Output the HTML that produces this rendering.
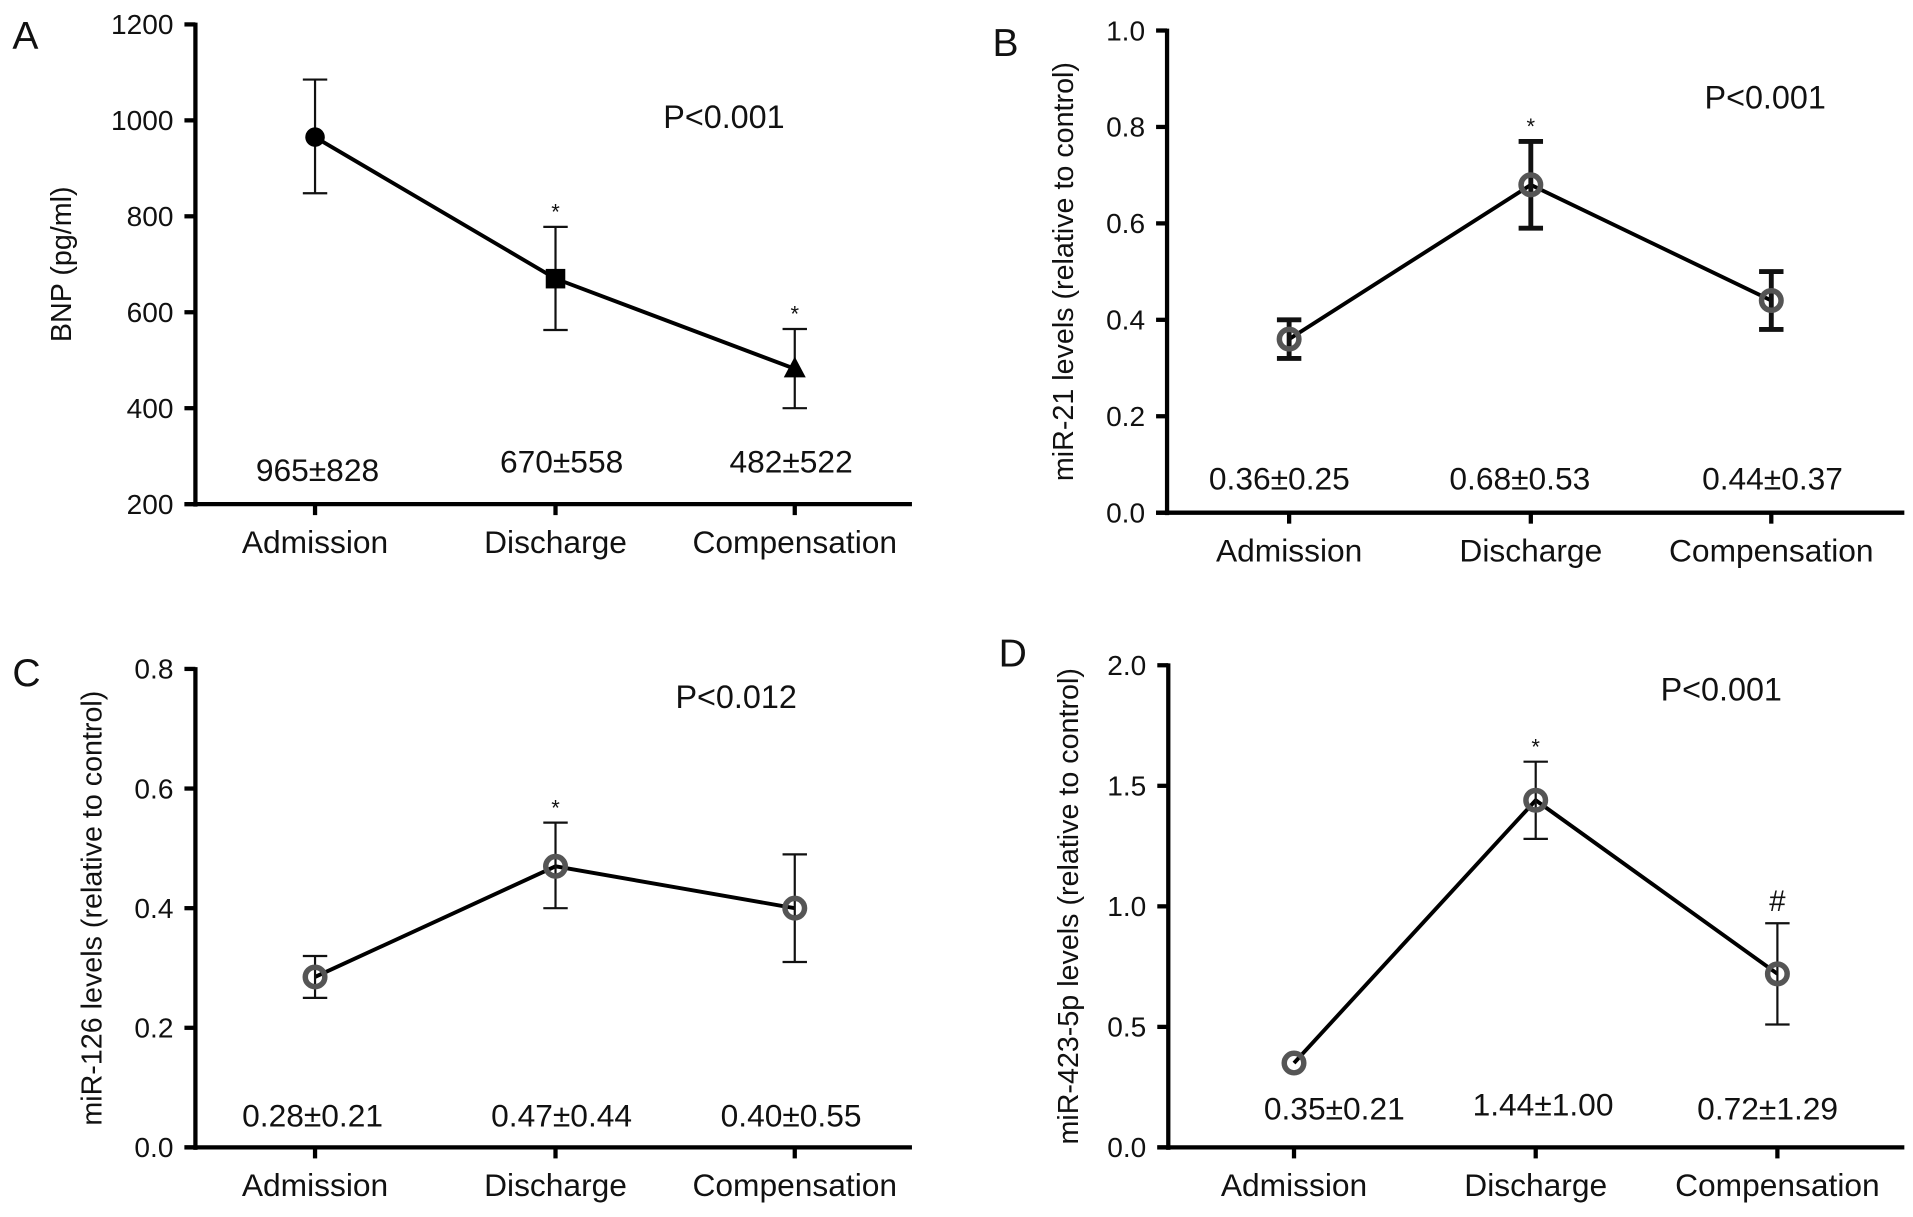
<!DOCTYPE html>
<html><head><meta charset="utf-8">
<style>
html,body{margin:0;padding:0;background:#fff;}
svg{display:block;}
text{font-family:"Liberation Sans",Arial,sans-serif;fill:#111;}
</style></head>
<body>
<svg id="fig" width="1913" height="1217" viewBox="0 0 1567 997" xmlns="http://www.w3.org/2000/svg"></svg>
<script>
const categories = ["Admission","Discharge","Compensation"];
// Panel A
const aMeans = [965, 670, 482];
const aLow = [848, 563, 400];
const aHigh = [1085, 778, 565];
const aLabels = ["965±828","670±558","482±522"];
const aTicks = [200,400,600,800,1000,1200];
const aTickLabels = ["200","400","600","800","1000","1200"];
const aMarks = ["", "*", "*"];
const aMarkers = ["circle","square","triangle"];
// Panel B
const bMeans = [0.36, 0.68, 0.44];
const bLow = [0.32, 0.59, 0.38];
const bHigh = [0.40, 0.77, 0.50];
const bLabels = ["0.36±0.25","0.68±0.53","0.44±0.37"];
const bTicks = [0,0.2,0.4,0.6,0.8,1.0];
const bTickLabels = ["0.0","0.2","0.4","0.6","0.8","1.0"];
const bMarks = ["", "*", ""];
// Panel C
const cMeans = [0.285, 0.47, 0.40];
const cLow = [0.25, 0.40, 0.31];
const cHigh = [0.32, 0.543, 0.49];
const cLabels = ["0.28±0.21","0.47±0.44","0.40±0.55"];
const cTicks = [0,0.2,0.4,0.6,0.8];
const cTickLabels = ["0.0","0.2","0.4","0.6","0.8"];
const cMarks = ["", "*", ""];
// Panel D
const dMeans = [0.35, 1.44, 0.72];
const dLow = [0.35, 1.28, 0.51];
const dHigh = [0.35, 1.60, 0.93];
const dLabels = ["0.35±0.21","1.44±1.00","0.72±1.29"];
const dTicks = [0,0.5,1.0,1.5,2.0];
const dTickLabels = ["0.0","0.5","1.0","1.5","2.0"];
const dMarks = ["", "*", "#"];

const NS = "http://www.w3.org/2000/svg";
const svg = document.getElementById("fig");
function mk(tag, attrs, parent){
  const e = document.createElementNS(NS, tag);
  for (const k in attrs) e.setAttribute(k, attrs[k]);
  (parent||svg).appendChild(e);
  return e;
}

function panel(cfg){
  const g = mk("g", {});
  
  
  const y = v => cfg.yBot - (v - cfg.yMin)/(cfg.yMax - cfg.yMin)*(cfg.yBot - cfg.yTop);
  const x = i => cfg.cx[i];
  const L = mk("text", {x:cfg.letterX, y:cfg.letterY, "font-size":32}, g);
  L.textContent = cfg.letter;
  
  
  const ya = mk("line", {x1:cfg.ax, y1:cfg.yTop-1.5, x2:cfg.ax, y2:cfg.yBot+2, stroke:"#000","stroke-width":3.5}, g);
  
  
  const xa = mk("line", {x1:cfg.ax-9, y1:cfg.yBot, x2:cfg.xEnd, y2:cfg.yBot, stroke:"#000","stroke-width":3.5}, g);
  
  
  cfg.ticks.forEach((t, i) => {
    const ty = y(t);
    mk("line", {x1:cfg.ax-9, y1:ty, x2:cfg.ax, y2:ty, stroke:"#000","stroke-width":3.5}, g);
    const tl = mk("text", {x:cfg.ax-18, y:ty+8, "font-size":23, "text-anchor":"end"}, g);
    tl.textContent = cfg.tickLabels[i];
    
    
  });
  const yt = mk("text", {x:0, y:0, "font-size":23.5, "text-anchor":"middle", transform:`translate(${cfg.titleX},${(cfg.yTop+cfg.yBot)/2}) rotate(-90)`}, g);
  yt.textContent = cfg.title;
  
  
  categories.forEach((c, i) => {
    mk("line", {x1:x(i), y1:cfg.yBot, x2:x(i), y2:cfg.yBot+9, stroke:"#000","stroke-width":3.5}, g);
    const ct = mk("text", {x:x(i), y:cfg.yBot+40, "font-size":26, "text-anchor":"middle"}, g);
    ct.textContent = c;
    
    
  });
  const pts = cfg.means.map((m, i) => x(i)+","+y(m)).join(" ");
  const pl = mk("polyline", {points:pts, fill:"none", stroke:"#000", "stroke-width":3.2}, g);
  
  
  cfg.means.forEach((m, i) => {
    const px = x(i), py = y(m);
    if (cfg.high[i] !== cfg.low[i]) {
      const eb = mk("g", {stroke:"#111", "stroke-width":cfg.ebw}, g);
      
      
      mk("line", {x1:px, y1:y(cfg.high[i]), x2:px, y2:y(cfg.low[i])}, eb);
      mk("line", {x1:px-10, y1:y(cfg.high[i]), x2:px+10, y2:y(cfg.high[i])}, eb);
      mk("line", {x1:px-10, y1:y(cfg.low[i]), x2:px+10, y2:y(cfg.low[i])}, eb);
    }
    let mkEl;
    const kind = cfg.markers ? cfg.markers[i] : "open";
    if (kind === "circle") mkEl = mk("circle", {cx:px, cy:py, r:8, fill:"#000"}, g);
    else if (kind === "square") mkEl = mk("rect", {x:px-8, y:py-8, width:16, height:16, fill:"#000"}, g);
    else if (kind === "triangle") mkEl = mk("polygon", {points:`${px},${py-10} ${px-9},${py+7} ${px+9},${py+7}`, fill:"#000"}, g);
    else mkEl = mk("circle", {cx:px, cy:py, r:8, fill:"none", stroke:"#555", "stroke-width":4.5}, g);
    
    
    if (cfg.marks[i]) {
      const s = mk("text", {x:px, y:y(cfg.high[i]) - (cfg.marks[i]==="#"?10:6), "font-size":cfg.marks[i]==="#"?24:18, "text-anchor":"middle"}, g);
      s.textContent = cfg.marks[i];
      
      
    }
    const vl = mk("text", {x:cfg.labX[i], y:cfg.labY[i], "font-size":26, "text-anchor":"middle"}, g);
    vl.textContent = cfg.labels[i];
    
    
  });
  const p = mk("text", {x:cfg.pX, y:cfg.pY, "font-size":26.5, "text-anchor":"middle"}, g);
  p.textContent = cfg.pText;
  
  
}

panel({name:"panel-a-bnp", letter:"A", letterX:10, letterY:40, ax:160, xEnd:747, yTop:20, yBot:413, yMin:200, yMax:1200,
  ticks:aTicks, tickLabels:aTickLabels, title:"BNP (pg/ml)", titleX:58, cx:[258,455,651],
  means:aMeans, low:aLow, high:aHigh, labels:aLabels, marks:aMarks, markers:aMarkers, ebw:1.8,
  labX:[260,460,648], labY:[394,387,387], pX:593, pY:105, pText:"P<0.001"});
panel({name:"panel-b-mir21", letter:"B", letterX:813, letterY:46, ax:956, xEnd:1560, yTop:25, yBot:420, yMin:0, yMax:1.0,
  ticks:bTicks, tickLabels:bTickLabels, title:"miR-21 levels (relative to control)", titleX:879, cx:[1056,1254,1451],
  means:bMeans, low:bLow, high:bHigh, labels:bLabels, marks:bMarks, ebw:4,
  labX:[1048,1245,1452], labY:[401,401,401], pX:1446, pY:89, pText:"P<0.001"});
panel({name:"panel-c-mir126", letter:"C", letterX:10, letterY:562, ax:160, xEnd:747, yTop:548, yBot:940, yMin:0, yMax:0.8,
  ticks:cTicks, tickLabels:cTickLabels, title:"miR-126 levels (relative to control)", titleX:83, cx:[258,455,651],
  means:cMeans, low:cLow, high:cHigh, labels:cLabels, marks:cMarks, ebw:1.8,
  labX:[256,460,648], labY:[923,923,923], pX:603, pY:580, pText:"P<0.012"});
panel({name:"panel-d-mir423", letter:"D", letterX:818, letterY:546, ax:957, xEnd:1560, yTop:545, yBot:940, yMin:0, yMax:2.0,
  ticks:dTicks, tickLabels:dTickLabels, title:"miR-423-5p levels (relative to control)", titleX:883, cx:[1060,1258,1456],
  means:dMeans, low:dLow, high:dHigh, labels:dLabels, marks:dMarks, ebw:1.8,
  labX:[1093,1264,1448], labY:[917,914,917], pX:1410, pY:574, pText:"P<0.001"});
</script>
</body></html>
